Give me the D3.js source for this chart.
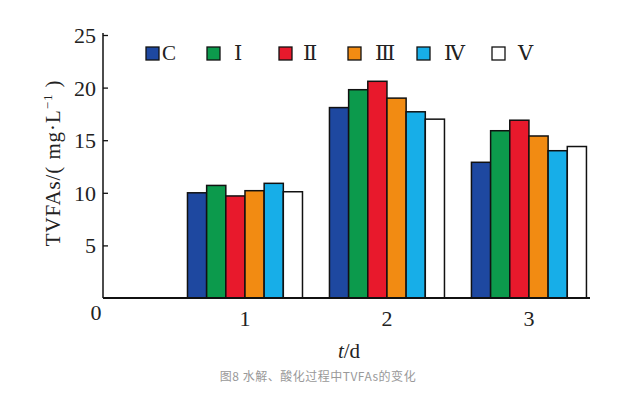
<!DOCTYPE html>
<html>
<head>
<meta charset="utf-8">
<script src="https://cdn.jsdelivr.net/npm/d3@7"></script>
<style>
  body { margin: 0; background: #fff; }
  text { font-family: "Liberation Serif", "DejaVu Serif", serif; }
</style>
</head>
<body>
<div id="chart"></div>
<script>
var days = [1, 2, 3];
var series = ["C", "Ⅰ", "Ⅱ", "Ⅲ", "Ⅳ", "Ⅴ"];
var colors = ["#1e48a0", "#0c9a4c", "#e8192c", "#f28b12", "#17aee8", "#ffffff"];
var valC   = [10.0, 18.1, 12.9];
var valI   = [10.7, 19.8, 15.9];
var valII  = [9.7, 20.6, 16.9];
var valIII = [10.2, 19.0, 15.4];
var valIV  = [10.9, 17.7, 14.0];
var valV   = [10.1, 17.0, 14.4];
var yTicks = [5, 10, 15, 20, 25];

var allVals = [valC, valI, valII, valIII, valIV, valV];

var width = 631, height = 394;
var svg = d3.select("#chart").append("svg")
  .attr("width", width).attr("height", height);

var x = d3.scaleLinear().domain([0, 3.43]).range([103, 590]);
var y = d3.scaleLinear().domain([0, 25]).range([298, 35]);
var groupW = (x(1) - x(0)) * 0.81;
var inner = d3.scaleBand().domain(series).range([-groupW / 2, groupW / 2]).padding(0);

// bars
days.forEach(function(d, di) {
  var g = svg.append("g").attr("transform", "translate(" + x(d) + ",0)");
  g.selectAll("rect")
    .data(series)
    .enter().append("rect")
    .attr("x", function(s) { return inner(s); })
    .attr("width", inner.bandwidth())
    .attr("y", function(s, i) { return y(allVals[i][di]); })
    .attr("height", function(s, i) { return y(0) - y(allVals[i][di]); })
    .attr("fill", function(s, i) { return colors[i]; })
    .attr("stroke", "#111")
    .attr("stroke-width", 1.5);
});

// y axis
var yAxis = svg.append("g").attr("transform", "translate(" + x(0) + ",0)")
  .call(d3.axisRight(y).tickValues(yTicks).tickSize(5).tickFormat(""));
yAxis.select(".domain").remove();
yAxis.selectAll(".tick line").attr("stroke", "#111").attr("stroke-width", 1.3);
svg.append("line")
  .attr("x1", x(0)).attr("x2", x(0)).attr("y1", y(25) - 2).attr("y2", y(0))
  .attr("stroke", "#111").attr("stroke-width", 1.5);
svg.selectAll(".ylab").data(yTicks).enter().append("text")
  .attr("class", "ylab")
  .attr("x", x(0) - 7).attr("y", function(d) { return y(d); })
  .attr("dy", "0.36em").attr("text-anchor", "end")
  .attr("font-size", 22).attr("fill", "#222")
  .text(function(d) { return d; });

// x axis
svg.append("line")
  .attr("x1", x(0)).attr("x2", x(3.43)).attr("y1", y(0)).attr("y2", y(0))
  .attr("stroke", "#111").attr("stroke-width", 2);
svg.selectAll(".xlab").data(days).enter().append("text")
  .attr("class", "xlab")
  .attr("x", function(d) { return x(d); }).attr("y", 326)
  .attr("text-anchor", "middle").attr("font-size", 22).attr("fill", "#222")
  .text(function(d) { return d; });
svg.append("text").attr("x", x(0) - 7).attr("y", 320)
  .attr("text-anchor", "middle").attr("font-size", 22).attr("fill", "#222").text("0");

// axis titles
var xt = svg.append("text").attr("x", 349).attr("y", 358)
  .attr("text-anchor", "middle").attr("font-size", 21).attr("fill", "#222");
xt.append("tspan").attr("font-style", "italic").text("t");
xt.append("tspan").text("/d");

var yt = svg.append("text")
  .attr("transform", "translate(60,163) rotate(-90)")
  .attr("text-anchor", "middle").attr("font-size", 21).attr("fill", "#222")
  .attr("letter-spacing", 0.9);
yt.append("tspan").text("TVFAs/( mg·L");
yt.append("tspan").attr("font-size", 13).attr("dy", -8).text("−1");
yt.append("tspan").attr("dy", 8).text(" )");

// legend
var legX = [146, 207, 279, 348, 417, 492];
var leg = svg.selectAll(".leg").data(series).enter().append("g")
  .attr("class", "leg")
  .attr("transform", function(d, i) { return "translate(" + legX[i] + ",47)"; });
leg.append("rect").attr("width", 13).attr("height", 13)
  .attr("fill", function(d, i) { return colors[i]; })
  .attr("stroke", "#111").attr("stroke-width", 1.3);
leg.append("text")
  .attr("x", function(d, i) { return i === 0 ? 16 : [0, 27, 24, 27, 27, 26][i]; })
  .attr("y", 13).attr("font-size", 21).attr("fill", "#222")
  .text(function(d) { return d; });

// caption
svg.append("text").attr("x", 318).attr("y", 381)
  .attr("text-anchor", "middle").attr("font-size", 12).attr("fill", "#999")
  .attr("letter-spacing", 0.5)
  .style("font-family", "'Noto Sans CJK SC', sans-serif")
  .text("图8 水解、酸化过程中TVFAs的变化");
</script>
</body>
</html>
